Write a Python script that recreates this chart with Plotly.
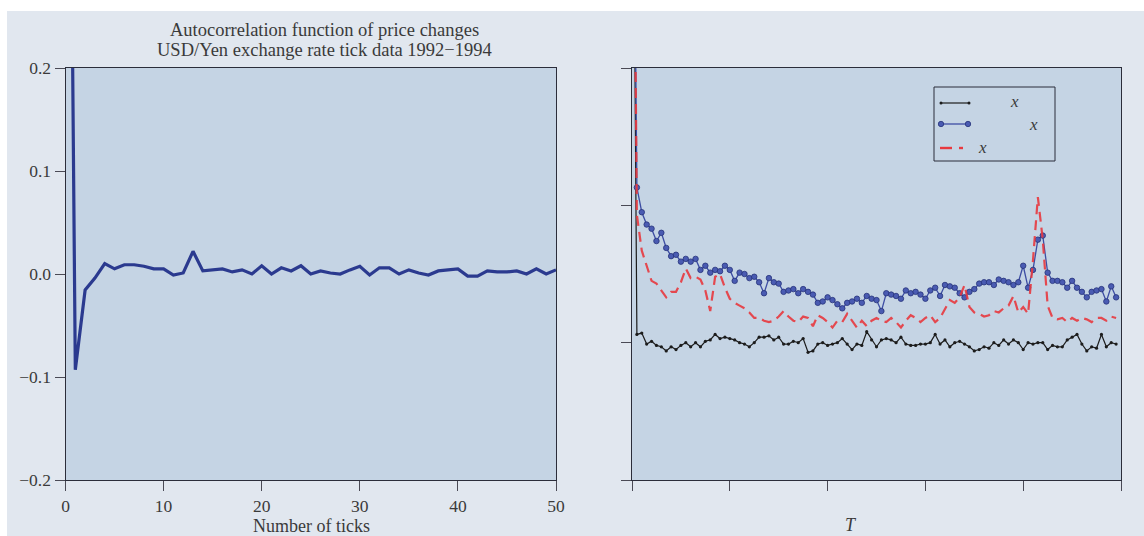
import plotly.graph_objects as go

# ---- left panel: autocorrelation of USD/Yen tick price changes ----
acf_lag = list(range(51))
acf_val = [1.0, -0.093, -0.0155, -0.004, 0.010, 0.005, 0.009, 0.009, 0.0075, 0.005, 0.005,
           -0.001, 0.001, 0.022, 0.003, 0.004, 0.005, 0.002, 0.004, 0.0, 0.008,
           0.0, 0.006, 0.003, 0.008, 0.0, 0.003, 0.001, 0.0, 0.004, 0.0075,
           -0.001, 0.006, 0.006, 0.0, 0.004, 0.001, -0.001, 0.003, 0.004, 0.005,
           -0.002, -0.002, 0.003, 0.002, 0.002, 0.003, 0.0, 0.005, 0.0, 0.004]
left_yticks = [-0.2, -0.1, 0.0, 0.1, 0.2]
left_xticks = [0, 10, 20, 30, 40, 50]

# ---- right panel: three series against T ----
t_index = list(range(100))
series_black = [6.0,
                1.06, 1.07, 0.99, 1.01, 0.98, 0.97, 0.94, 0.97, 0.95, 0.98,
                1.00, 0.97, 1.00, 0.97, 1.01, 1.02, 1.06, 1.03, 1.04, 1.03,
                1.02, 1.00, 0.99, 0.97, 1.00, 1.04, 1.04, 1.05, 1.02, 1.04,
                0.99, 0.99, 1.01, 1.00, 1.03, 0.93, 0.94, 0.99, 1.00, 0.98,
                0.99, 1.00, 1.03, 0.99, 0.95, 0.99, 0.98, 1.08, 1.02, 0.97,
                1.02, 1.03, 1.02, 1.00, 1.04, 0.99, 0.98, 0.98, 0.99, 0.99,
                1.00, 1.06, 0.99, 1.02, 0.97, 1.00, 1.01, 0.99, 0.97, 0.94,
                0.95, 0.97, 0.96, 1.00, 0.98, 1.02, 0.99, 1.02, 1.00, 0.95,
                1.00, 0.99, 1.00, 1.00, 0.95, 0.98, 0.97, 0.97, 1.02, 1.04,
                1.06, 0.99, 0.94, 0.97, 0.96, 1.06, 0.97, 1.00, 0.99]
series_blue = [6.0,
               2.13, 1.95, 1.86, 1.83, 1.74, 1.80, 1.69, 1.63, 1.64, 1.59,
               1.61, 1.59, 1.61, 1.53, 1.56, 1.51, 1.53, 1.52, 1.56, 1.53,
               1.45, 1.51, 1.50, 1.47, 1.48, 1.44, 1.36, 1.47, 1.44, 1.43,
               1.37, 1.38, 1.39, 1.36, 1.39, 1.37, 1.35, 1.29, 1.30, 1.33,
               1.31, 1.28, 1.25, 1.29, 1.30, 1.32, 1.29, 1.34, 1.32, 1.31,
               1.23, 1.36, 1.35, 1.34, 1.32, 1.38, 1.36, 1.37, 1.35, 1.32,
               1.38, 1.40, 1.34, 1.42, 1.41, 1.40, 1.36, 1.33, 1.37, 1.39,
               1.43, 1.44, 1.44, 1.42, 1.46, 1.45, 1.44, 1.42, 1.44, 1.56,
               1.40, 1.53, 1.75, 1.78, 1.51, 1.45, 1.45, 1.44, 1.40, 1.45,
               1.40, 1.37, 1.33, 1.37, 1.38, 1.39, 1.30, 1.41, 1.33]
series_red = [6.0,
              1.93, 1.67, 1.56, 1.45, 1.43, 1.38, 1.33, 1.37, 1.37, 1.44,
              1.54, 1.47, 1.48, 1.46, 1.38, 1.23, 1.48, 1.50, 1.40, 1.32,
              1.29, 1.27, 1.25, 1.22, 1.18, 1.18, 1.16, 1.15, 1.16, 1.19,
              1.23, 1.19, 1.16, 1.15, 1.19, 1.18, 1.12, 1.20, 1.18, 1.15,
              1.11, 1.16, 1.15, 1.21, 1.16, 1.11, 1.16, 1.12, 1.16, 1.18,
              1.16, 1.15, 1.18, 1.15, 1.11, 1.16, 1.20, 1.18, 1.15, 1.18,
              1.20, 1.15, 1.18, 1.25, 1.31, 1.29, 1.33, 1.42, 1.26, 1.22,
              1.21, 1.19, 1.20, 1.23, 1.22, 1.25, 1.27, 1.34, 1.22, 1.26,
              1.21, 1.60, 2.06, 1.75, 1.27, 1.18, 1.17, 1.18, 1.15, 1.18,
              1.16, 1.18, 1.17, 1.15, 1.18, 1.18, 1.16, 1.19, 1.18]
right_xticks = [0, 20, 40, 60, 80, 100]
right_yticks = [0, 1, 2, 3]

W, H = 1144, 536
FONT = "Liberation Serif"
PANEL_BG = "#e1e7ef"
PLOT_BG = "#c5d4e4"
FRAME = "#2b2d3a"
C_NAVY = "#2b3a8f"
C_BLACK = "#1c1c1c"
C_BLUE = "#3d4da3"
C_RED = "#e8393f"
TXT = "#3a3a3a"


def px(x):
    return x / W


def py(y):
    return 1 - y / H


fig = go.Figure()

fig.add_trace(go.Scatter(x=acf_lag, y=acf_val, mode="lines",
                         line=dict(color=C_NAVY, width=3.2),
                         xaxis="x", yaxis="y", showlegend=False))

fig.add_trace(go.Scatter(x=t_index, y=series_black, mode="lines+markers",
                         line=dict(color=C_BLACK, width=1.2),
                         marker=dict(size=3.2, color=C_BLACK),
                         xaxis="x2", yaxis="y2", showlegend=False))
fig.add_trace(go.Scatter(x=t_index, y=series_blue, mode="lines+markers",
                         line=dict(color=C_BLUE, width=1.3),
                         marker=dict(size=5.5, color="#4a5bb2",
                                     line=dict(color="#26327a", width=0.8)),
                         xaxis="x2", yaxis="y2", showlegend=False))
fig.add_trace(go.Scatter(x=t_index, y=series_red, mode="lines",
                         line=dict(color=C_RED, width=2.2, dash="10px,6px"),
                         opacity=0.9,
                         xaxis="x2", yaxis="y2", showlegend=False))

axis_common = dict(showline=True, linecolor=FRAME, linewidth=1, mirror=True,
                   ticks="outside", ticklen=10, tickcolor="#4a4a55", tickwidth=1,
                   showgrid=False, zeroline=False, automargin=False,
                   tickfont=dict(family=FONT, size=17.5, color=TXT))

y_dom = [py(480), py(68)]

fig.update_layout(
    width=W, height=H, autosize=False,
    margin=dict(l=0, r=0, t=0, b=0),
    paper_bgcolor=PANEL_BG,
    plot_bgcolor=PLOT_BG,
    xaxis=dict(domain=[px(65.5), px(556)], range=[0, 50], tickvals=left_xticks,
               anchor="y", **axis_common),
    yaxis=dict(domain=y_dom, range=[-0.2, 0.2], tickvals=left_yticks,
               tickformat=".1f", anchor="x", **axis_common),
    xaxis2=dict(domain=[px(632), px(1121)], range=[0, 100], tickvals=right_xticks,
                showticklabels=False, anchor="y2", **axis_common),
    yaxis2=dict(domain=y_dom, range=[0, 3], tickvals=right_yticks,
                showticklabels=False, anchor="x2", **axis_common),
)

shapes = [
    # white page edge above and left of the panel
    dict(type="rect", xref="paper", yref="paper", x0=0, x1=1, y0=py(11), y1=1,
         fillcolor="white", line=dict(width=0), layer="above"),
    dict(type="rect", xref="paper", yref="paper", x0=0, x1=px(7), y0=0, y1=1,
         fillcolor="white", line=dict(width=0), layer="above"),
    # legend frame
    dict(type="rect", xref="paper", yref="paper", x0=px(934), x1=px(1055),
         y0=py(161), y1=py(87), line=dict(color=FRAME, width=1)),
    # legend samples
    dict(type="line", xref="paper", yref="paper", x0=px(941), x1=px(969),
         y0=py(103), y1=py(103), line=dict(color=C_BLACK, width=1.2)),
    dict(type="line", xref="paper", yref="paper", x0=px(941), x1=px(968),
         y0=py(124), y1=py(124), line=dict(color=C_BLUE, width=1.3)),
    dict(type="line", xref="paper", yref="paper", x0=px(940), x1=px(952),
         y0=py(148), y1=py(148), line=dict(color=C_RED, width=2.4)),
    dict(type="line", xref="paper", yref="paper", x0=px(959), x1=px(963),
         y0=py(148), y1=py(148), line=dict(color=C_RED, width=2.4)),
]
for cx in (941, 969):
    shapes.append(dict(type="circle", xref="paper", yref="paper",
                       x0=px(cx - 1.5), x1=px(cx + 1.5), y0=py(104.5), y1=py(101.5),
                       fillcolor=C_BLACK, line=dict(width=0)))
for cx in (941, 968):
    shapes.append(dict(type="circle", xref="paper", yref="paper",
                       x0=px(cx - 2.7), x1=px(cx + 2.7), y0=py(126.7), y1=py(121.3),
                       fillcolor="#4a5bb2", line=dict(color="#26327a", width=0.8)))
fig.update_layout(shapes=shapes)


def label(x, y, text, size=18):
    fig.add_annotation(xref="paper", yref="paper", x=px(x), y=py(y), text=text,
                       showarrow=False, xanchor="center", yanchor="middle",
                       font=dict(family=FONT, size=size, color=TXT))


label(324, 30, "Autocorrelation function of price changes", size=18.5)
label(324, 50, "USD/Yen exchange rate tick data 1992\u22121994", size=18.5)
label(311, 526, "Number of ticks", size=18)
label(851, 525, "<i>T</i>", size=18)
label(1014, 101, "<i>x</i>", size=17)
label(1033, 124, "<i>x</i>", size=17)
label(982, 147, "<i>x</i>", size=17)

fig.write_html("out.html", config={"responsive": False, "displayModeBar": False})
